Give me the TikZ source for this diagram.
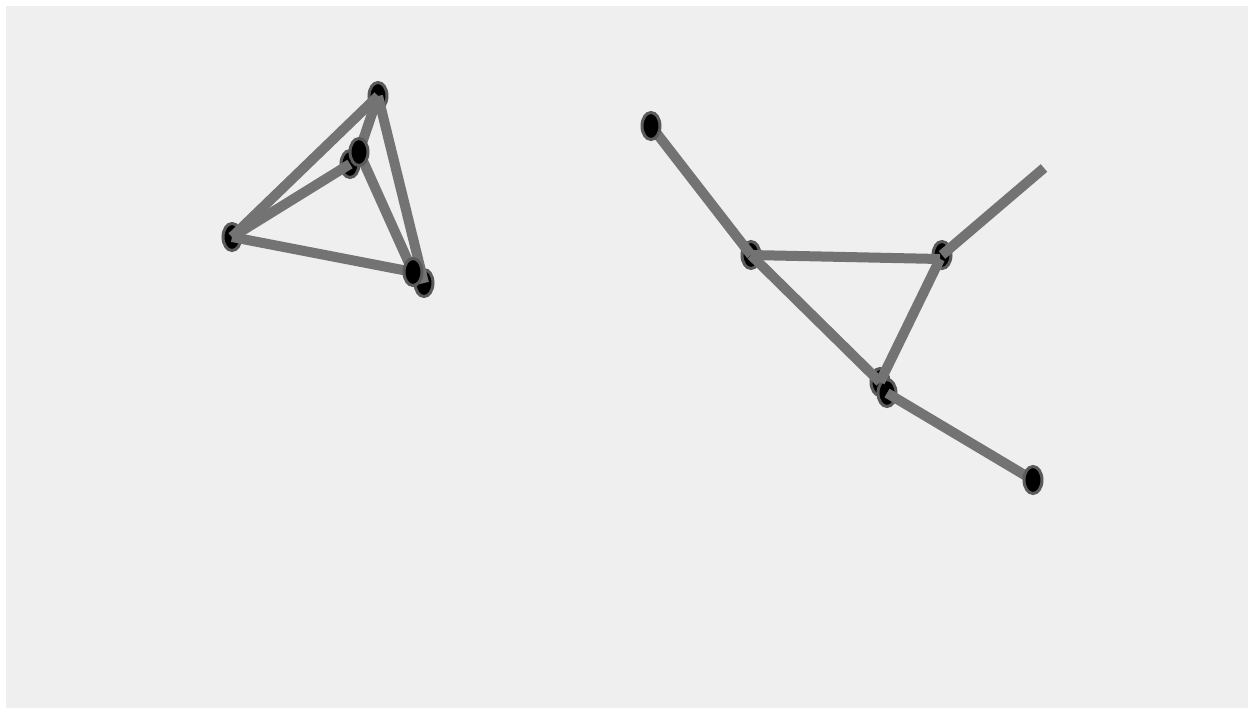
\documentclass[tikz,border=0pt]{standalone}
\usepackage{tikz}
\usetikzlibrary{shapes.geometric}
\definecolor{bgG}{RGB}{239,239,239}
\definecolor{bondG}{RGB}{115,115,115}
\definecolor{rimG}{RGB}{90,90,90}

\begin{document}
\begin{tikzpicture}[x=0.2mm,y=-0.2mm,
  atom/.style={ellipse,fill=black,draw=rimG,line width=0.6mm,minimum width=3.6mm,minimum height=5.4mm,inner sep=0pt},
  bond/.style={bondG,line width=2mm}]
\useasboundingbox (0,0) rectangle (1251,709);
\fill[bgG] (6,6) rectangle (1248,708);
% left molecule, back atoms
\node[atom] (a) at (378,96) {}; \node[atom] (bb) at (350,164) {};
\node[atom] (c) at (232,237) {}; \node[atom] (e) at (424,283) {};
% right molecule, back atoms
\node[atom] (q) at (751,255) {}; \node[atom] (r) at (942,255) {};
\node[atom] (s) at (880,382) {}; \node[atom] (s2) at (887,393) {};
% front atom places
\coordinate (bf0) at (359,152); \coordinate (d0) at (413,272);
\coordinate (p0) at (651,126); \coordinate (t0) at (1033,480);
\coordinate (rq) at (940,259); \coordinate (tip) at (1044,168);
% bonds
\draw[bond] (a.center)--(c.center); \draw[bond] (a.center)--(e.center);
\draw[bond] (c.center)--(bb.center); \draw[bond] (a.center)--(bf0);
\draw[bond] (bf0)--(d0); \draw[bond] (c.center)--(d0);
\draw[bond] (p0)--(q.center); \draw[bond] (q.center)--(s.center);
\draw[bond] (q.center)--(rq); \draw[bond] (rq)--(s.center);
\draw[bond] (r.center)--(tip); \draw[bond] (s2.center)--(t0);
% front atoms
\node[atom] (bf) at (bf0) {}; \node[atom] (d) at (d0) {};
\node[atom] (p) at (p0) {}; \node[atom] (t) at (t0) {};
\end{tikzpicture}
\end{document}
